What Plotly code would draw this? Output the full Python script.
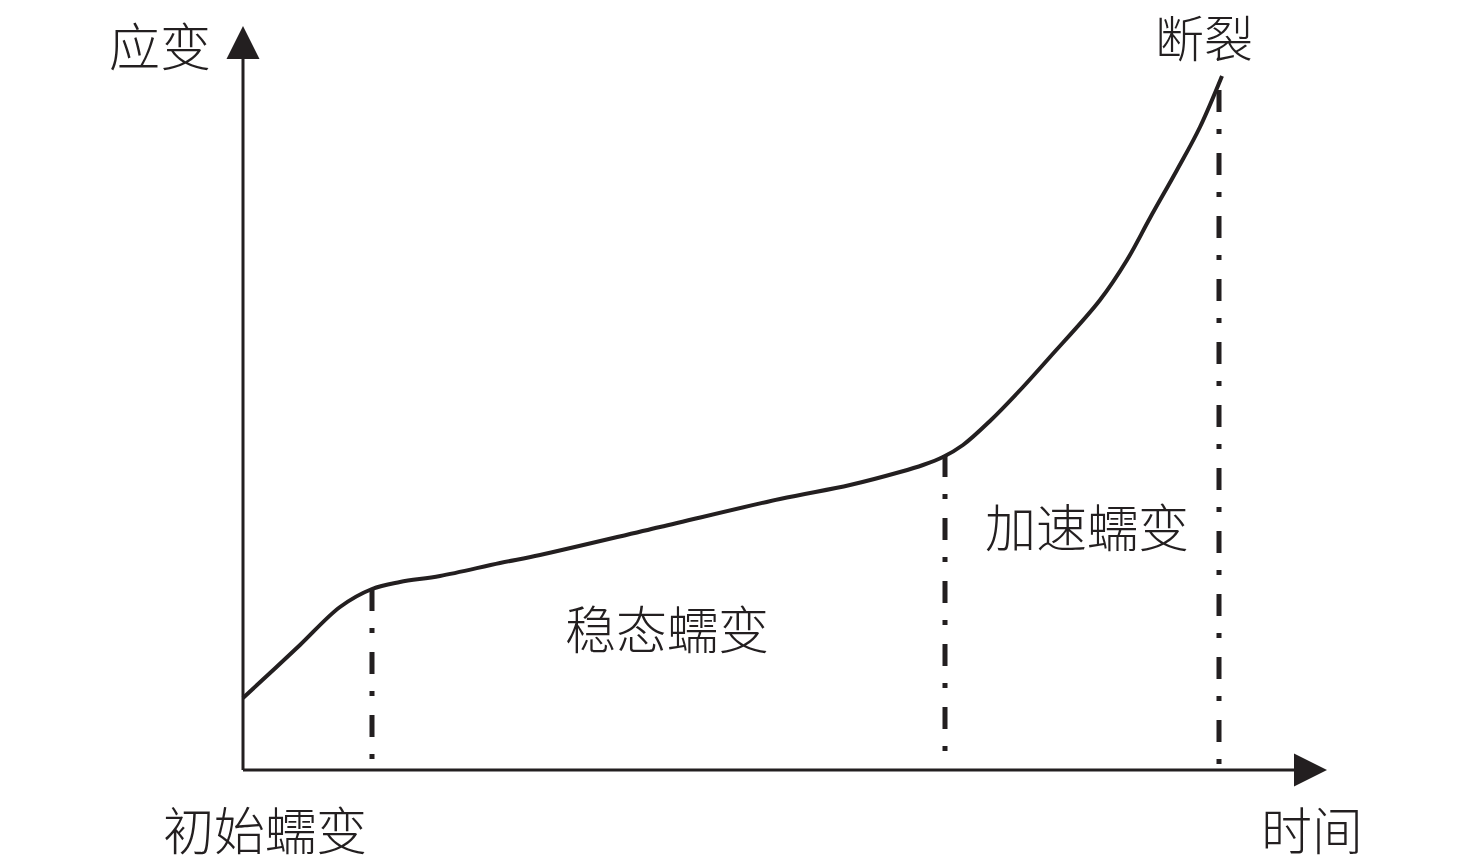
import plotly.graph_objects as go

# creep curve: time (arbitrary units) vs strain (arbitrary units)
time = [0.00, 0.27, 0.57, 0.97, 1.29, 1.57, 1.97, 2.57, 2.97, 4.17, 5.37, 6.07,
        6.57, 6.80, 7.00, 7.20, 7.47, 7.80, 8.07, 8.57, 8.84, 9.07, 9.34, 9.57, 9.79]
strain = [0.72, 0.97, 1.25, 1.63, 1.81, 1.88, 1.94, 2.07, 2.15, 2.43, 2.71, 2.85,
          2.98, 3.05, 3.13, 3.25, 3.49, 3.83, 4.13, 4.70, 5.10, 5.52, 6.00, 6.43, 6.94]

# stage boundaries (end of primary, end of secondary, rupture)
stage_time = [1.29, 7.02, 9.76]
stage_strain = [1.81, 3.15, 6.80]

ink = '#231f20'
font = 'Noto Sans CJK SC'

fig = go.Figure()

fig.add_trace(go.Scatter(
    x=time, y=strain, mode='lines',
    line=dict(color=ink, width=4, shape='spline', smoothing=1.0),
    hoverinfo='skip', showlegend=False,
))

# dash-dot lines dropping from the curve to the time axis
for t, s in zip(stage_time, stage_strain):
    fig.add_trace(go.Scatter(
        x=[t, t], y=[s, 0.03], mode='lines',
        line=dict(color=ink, width=5, dash='22px,17px,5px,19px'),
        hoverinfo='skip', showlegend=False,
    ))

# axes with arrow heads
arrow = dict(text='', showarrow=True, xref='x', yref='y', axref='x', ayref='y',
             arrowhead=2, arrowsize=2.2, arrowwidth=3, arrowcolor=ink, standoff=0)
fig.add_annotation(x=0, y=7.44, ax=0, ay=-0.015, **arrow)
fig.add_annotation(x=10.84, y=0, ax=-0.015, ay=0, **arrow)

labels = [
    ('应变', -0.83, 7.26, 51),
    ('断裂', 9.61, 7.35, 49),
    ('初始蠕变', 0.22, -0.58, 51),
    ('时间', 10.69, -0.58, 51),
    ('稳态蠕变', 4.24, 1.43, 51),
    ('加速蠕变', 8.44, 2.45, 51),
]
for txt, lx, ly, fs in labels:
    fig.add_annotation(x=lx, y=ly, xref='x', yref='y', text=txt, showarrow=False,
                       font=dict(family=font, size=fs, color=ink, weight=300))

# plot area fills the page so labels and arrows outside the axes stay visible
fig.update_xaxes(range=[-2.35, 12.41], visible=False)
fig.update_yaxes(range=[-1.02, 7.62], visible=False)
fig.update_layout(
    width=1476, height=864,
    margin=dict(l=0, r=0, t=0, b=0),
    plot_bgcolor='white', paper_bgcolor='white',
)

fig.write_html('out.html')
